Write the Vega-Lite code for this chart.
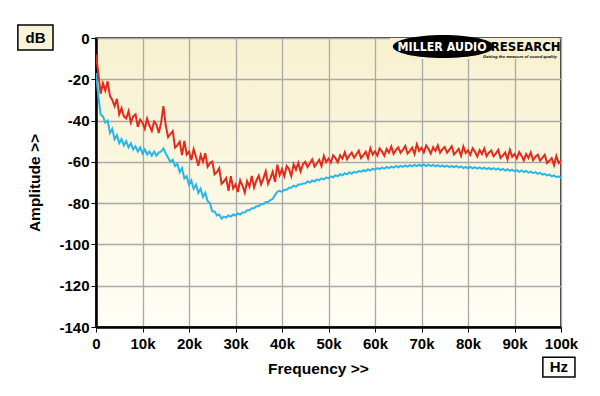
{
  "$schema": "https://vega.github.io/schema/vega-lite/v6.json",
  "width": 465,
  "height": 289,
  "autosize": "none",
  "padding": {"left": 96, "top": 38, "right": 39, "bottom": 69},
  "background": "#ffffff",
  "view": {
    "fill": {"gradient": "linear", "x1": 0, "y1": 0, "x2": 0, "y2": 1, "stops": [{"offset": 0, "color": "#f7f1cf"}, {"offset": 1, "color": "#fffef6"}]},
    "stroke": "#000000",
    "strokeWidth": 1.5
  },
  "config": {
    "font": "Liberation Sans",
    "axis": {
      "labelFont": "Liberation Sans",
      "labelFontSize": 15,
      "labelFontWeight": "bold",
      "labelColor": "#000000",
      "titleFont": "Liberation Sans",
      "titleFontSize": 15.5,
      "titleFontWeight": "bold",
      "titleColor": "#000000",
      "domainColor": "#000000",
      "domainWidth": 2.5,
      "tickColor": "#000000",
      "tickSize": 5,
      "tickWidth": 1,
      "gridColor": "#a9a9a9",
      "gridWidth": 1.3,
      "gridOpacity": 1
    }
  },
  "datasets": {
    "spec": [
      {"f":0,"r":-8,"b":-17},{"f":0.5,"r":-17,"b":-28},{"f":1,"r":-27,"b":-37},{"f":1.5,"r":-22,"b":-38},{"f":2,"r":-25.5,"b":-41},{"f":2.5,"r":-21,"b":-40},{"f":3,"r":-28,"b":-46},{"f":3.5,"r":-30,"b":-44},{"f":4,"r":-33,"b":-49},{"f":4.5,"r":-29.5,"b":-47},
      {"f":5,"r":-37,"b":-51},{"f":5.5,"r":-34,"b":-49},{"f":6,"r":-38,"b":-52},{"f":6.5,"r":-39,"b":-50},{"f":7,"r":-35.5,"b":-53},{"f":7.5,"r":-41,"b":-51},{"f":8,"r":-38,"b":-54},{"f":8.5,"r":-37,"b":-52.5},{"f":9,"r":-43,"b":-55},{"f":9.5,"r":-39.5,"b":-53},
      {"f":10,"r":-41,"b":-56},{"f":10.5,"r":-44,"b":-54},{"f":11,"r":-39,"b":-56.5},{"f":11.5,"r":-42.5,"b":-55},{"f":12,"r":-45,"b":-57},{"f":12.5,"r":-40.5,"b":-55},{"f":13,"r":-42,"b":-57},{"f":13.5,"r":-46,"b":-55.5},{"f":14,"r":-41,"b":-55},{"f":14.5,"r":-33,"b":-53.5},
      {"f":15,"r":-42.4,"b":-56},{"f":15.5,"r":-48,"b":-58},{"f":16,"r":-46.5,"b":-60},{"f":16.5,"r":-45.1,"b":-59},{"f":17,"r":-53.1,"b":-62},{"f":17.5,"r":-51.9,"b":-61},{"f":18,"r":-50.3,"b":-65},{"f":18.5,"r":-56.7,"b":-63},{"f":19,"r":-49.9,"b":-68},{"f":19.5,"r":-56.4,"b":-67},
      {"f":20,"r":-55,"b":-71},{"f":20.5,"r":-59.1,"b":-69},{"f":21,"r":-53.9,"b":-73},{"f":21.5,"r":-57.5,"b":-71},{"f":22,"r":-61.9,"b":-75},{"f":22.5,"r":-56.8,"b":-73},{"f":23,"r":-60,"b":-77},{"f":23.5,"r":-55.8,"b":-75},{"f":24,"r":-62.4,"b":-79},{"f":24.5,"r":-60.6,"b":-80},
      {"f":25,"r":-59.9,"b":-84},{"f":25.5,"r":-66,"b":-84},{"f":26,"r":-65,"b":-86},{"f":26.5,"r":-63.1,"b":-85.5},{"f":27,"r":-70.6,"b":-87.5},{"f":27.5,"r":-69.4,"b":-86.5},{"f":28,"r":-67.8,"b":-87},{"f":28.5,"r":-74,"b":-86},{"f":29,"r":-66.9,"b":-86.5},{"f":29.5,"r":-72.9,"b":-85.5},
      {"f":30,"r":-71,"b":-86},{"f":30.5,"r":-74.6,"b":-85},{"f":31,"r":-68.9,"b":-85.5},{"f":31.5,"r":-71.5,"b":-84.5},{"f":32,"r":-74.9,"b":-84.5},{"f":32.5,"r":-69.3,"b":-83.5},{"f":33,"r":-72,"b":-83.5},{"f":33.5,"r":-66.8,"b":-82.5},{"f":34,"r":-72.4,"b":-82.5},{"f":34.5,"r":-69,"b":-81.5},
      {"f":35,"r":-66.7,"b":-81.5},{"f":35.5,"r":-70.9,"b":-80.5},{"f":36,"r":-68,"b":-80.5},{"f":36.5,"r":-64.6,"b":-79.5},{"f":37,"r":-70.6,"b":-79.5},{"f":37.5,"r":-67.9,"b":-78.5},{"f":38,"r":-64.8,"b":-78},{"f":38.5,"r":-69.7,"b":-76},{"f":39,"r":-61.4,"b":-74.5},{"f":39.5,"r":-66.4,"b":-74},
      {"f":40,"r":-63.5,"b":-74.5},{"f":40.5,"r":-66.9,"b":-73.5},{"f":41,"r":-62,"b":-73.5},{"f":41.5,"r":-63.5,"b":-72.5},{"f":42,"r":-66.9,"b":-72.5},{"f":42.5,"r":-61.2,"b":-71.5},{"f":43,"r":-63.8,"b":-72},{"f":43.5,"r":-60.5,"b":-71},{"f":44,"r":-64.6,"b":-71},{"f":44.5,"r":-61.2,"b":-70.5},
      {"f":45,"r":-60,"b":-70.5},{"f":45.5,"r":-62.5,"b":-69.5},{"f":46,"r":-60.7,"b":-70},{"f":46.5,"r":-58.8,"b":-69},{"f":47,"r":-62.3,"b":-69.5},{"f":47.5,"r":-60.8,"b":-68.5},{"f":48,"r":-59,"b":-69},{"f":48.5,"r":-62,"b":-68},{"f":49,"r":-57.1,"b":-68.5},{"f":49.5,"r":-60.1,"b":-67.5},
      {"f":50,"r":-58.4,"b":-68},{"f":50.5,"r":-60.3,"b":-67},{"f":51,"r":-56.8,"b":-67.5},{"f":51.5,"r":-58.2,"b":-66.5},{"f":52,"r":-60.2,"b":-67},{"f":52.5,"r":-56.8,"b":-66},{"f":53,"r":-58.4,"b":-66.5},{"f":53.5,"r":-55.4,"b":-65.5},{"f":54,"r":-58.8,"b":-66},{"f":54.5,"r":-56.8,"b":-65},
      {"f":55,"r":-55.5,"b":-65.8},{"f":55.5,"r":-58,"b":-64.8},{"f":56,"r":-56.4,"b":-65.2},{"f":56.5,"r":-54.6,"b":-64.5},{"f":57,"r":-58.2,"b":-64.8},{"f":57.5,"r":-56.8,"b":-64},{"f":58,"r":-55.1,"b":-64.5},{"f":58.5,"r":-58.2,"b":-63.6},{"f":59,"r":-53.4,"b":-64.2},{"f":59.5,"r":-56.5,"b":-63.3},
      {"f":60,"r":-54.9,"b":-63.8},{"f":60.5,"r":-56.9,"b":-63},{"f":61,"r":-53.5,"b":-63.5},{"f":61.5,"r":-55,"b":-62.8},{"f":62,"r":-57.1,"b":-63.3},{"f":62.5,"r":-53.8,"b":-62.5},{"f":63,"r":-55.5,"b":-63},{"f":63.5,"r":-52.6,"b":-62.3},{"f":64,"r":-56.1,"b":-62.8},{"f":64.5,"r":-54.2,"b":-62},
      {"f":65,"r":-53,"b":-62.6},{"f":65.5,"r":-55.6,"b":-61.9},{"f":66,"r":-54.1,"b":-62.4},{"f":66.5,"r":-52.3,"b":-61.7},{"f":67,"r":-56,"b":-62.3},{"f":67.5,"r":-54.7,"b":-61.6},{"f":68,"r":-53.1,"b":-62.2},{"f":68.5,"r":-56.2,"b":-61.5},{"f":69,"r":-51.5,"b":-62.1},{"f":69.5,"r":-54.7,"b":-61.4},
      {"f":70,"r":-53.2,"b":-62},{"f":70.5,"r":-55.4,"b":-61.3},{"f":71,"r":-52.1,"b":-62},{"f":71.5,"r":-53.8,"b":-61.4},{"f":72,"r":-56,"b":-62.1},{"f":72.5,"r":-52.9,"b":-61.5},{"f":73,"r":-54.7,"b":-62.2},{"f":73.5,"r":-52,"b":-61.6},{"f":74,"r":-55.6,"b":-62.3},{"f":74.5,"r":-53.9,"b":-61.7},
      {"f":75,"r":-52.8,"b":-62.4},{"f":75.5,"r":-55.6,"b":-61.8},{"f":76,"r":-54.1,"b":-62.5},{"f":76.5,"r":-52.5,"b":-61.9},{"f":77,"r":-56.4,"b":-62.6},{"f":77.5,"r":-55.2,"b":-62},{"f":78,"r":-53.7,"b":-62.8},{"f":78.5,"r":-57,"b":-62.2},{"f":79,"r":-52.5,"b":-63},{"f":79.5,"r":-55.7,"b":-62.4},
      {"f":80,"r":-54.4,"b":-63.1},{"f":80.5,"r":-56.6,"b":-62.5},{"f":81,"r":-53.4,"b":-63.2},{"f":81.5,"r":-55.1,"b":-62.6},{"f":82,"r":-57.4,"b":-63.3},{"f":82.5,"r":-54.3,"b":-62.7},{"f":83,"r":-56.2,"b":-63.4},{"f":83.5,"r":-53.5,"b":-62.8},{"f":84,"r":-57.2,"b":-63.5},{"f":84.5,"r":-55.5,"b":-62.9},
      {"f":85,"r":-54.5,"b":-63.6},{"f":85.5,"r":-57.3,"b":-63},{"f":86,"r":-55.9,"b":-63.8},{"f":86.5,"r":-54.2,"b":-63.2},{"f":87,"r":-58.1,"b":-64},{"f":87.5,"r":-56.9,"b":-63.4},{"f":88,"r":-55.5,"b":-64.2},{"f":88.5,"r":-58.8,"b":-63.6},{"f":89,"r":-54.2,"b":-64.4},{"f":89.5,"r":-57.5,"b":-63.8},
      {"f":90,"r":-56.2,"b":-64.6},{"f":90.5,"r":-58.4,"b":-64},{"f":91,"r":-55.2,"b":-64.8},{"f":91.5,"r":-57,"b":-64.2},{"f":92,"r":-59.3,"b":-65},{"f":92.5,"r":-56.2,"b":-64.4},{"f":93,"r":-58.1,"b":-65.2},{"f":93.5,"r":-55.4,"b":-64.7},{"f":94,"r":-59.2,"b":-65.5},{"f":94.5,"r":-57.5,"b":-65},
      {"f":95,"r":-56.5,"b":-65.8},{"f":95.5,"r":-59.4,"b":-65.3},{"f":96,"r":-58.1,"b":-66.2},{"f":96.5,"r":-56.6,"b":-65.8},{"f":97,"r":-60.6,"b":-66.6},{"f":97.5,"r":-59.5,"b":-66.2},{"f":98,"r":-58.2,"b":-67},{"f":98.5,"r":-61.6,"b":-66.6},{"f":99,"r":-57.2,"b":-67.4},{"f":99.5,"r":-60.6,"b":-67},
      {"f":100,"r":-59.4,"b":-67.8}
    ],
    "boxes": [
      {"x1": -16.8, "x2": -9.25, "y1": 6.3, "y2": -5.8, "fill": "#f8f4d8", "label": "dB", "tx": -13.0, "ty": 0.2},
      {"x1": 96.1, "x2": 103.0, "y1": -154.6, "y2": -164.2, "fill": "#ffffff", "label": "Hz", "tx": 99.55, "ty": -159.4}
    ]
  },
  "layer": [
    {
      "data": {"values": [{"x1": 63.2, "x2": 99.6, "y1": 0, "y2": -10.2}]},
      "mark": {"type": "rect", "color": "#f7f1d0"},
      "encoding": {
        "x": {"field": "x1", "type": "quantitative", "scale": {"domain": [0, 100], "nice": false}, "axis": {"values": [0,10,20,30,40,50,60,70,80,90,100], "labelExpr": "datum.value == 0 ? '0' : datum.value + 'k'", "title": "Frequency >>", "titleX": 222, "titleAnchor": "middle", "labelPadding": 4, "titlePadding": 10, "labelFlush": false}},
        "x2": {"field": "x2"},
        "y": {"field": "y1", "type": "quantitative", "scale": {"domain": [-140, 0], "nice": false}, "axis": {"values": [-140,-120,-100,-80,-60,-40,-20,0], "labelExpr": "datum.value + ''", "title": "Amplitude >>", "labelPadding": 2, "titlePadding": 16}},
        "y2": {"field": "y2"}
      }
    },
    {
      "data": {"name": "spec"},
      "transform": [{"fold": ["r", "b"], "as": ["series", "db"]}],
      "mark": {"type": "line", "strokeWidth": 2, "clip": true},
      "encoding": {
        "x": {"field": "f", "type": "quantitative"},
        "y": {"field": "db", "type": "quantitative"},
        "color": {"field": "series", "type": "nominal", "scale": {"domain": ["r", "b"], "range": ["#e52a1c", "#29b6e8"]}, "legend": null},
        "detail": {"field": "series"}
      }
    },
    {
      "data": {"values": [{"x": 74.7, "y": -4.1}]},
      "mark": {"type": "point", "shape": "M-1,0A1,0.228,0,1,0,1,0A1,0.228,0,1,0,-1,0Z", "size": 10201, "filled": true, "color": "#000000", "opacity": 1},
      "encoding": {
        "x": {"field": "x", "type": "quantitative"},
        "y": {"field": "y", "type": "quantitative"}
      }
    },
    {
      "data": {"values": [{"x": 84.0, "y": -4.4, "t": "MILLER AUDIO"}]},
      "mark": {"type": "text", "font": "DejaVu Sans Condensed", "fontWeight": "bold", "baseline": "middle", "align": "right", "fontSize": 12.3, "color": "#ffffff"},
      "encoding": {
        "x": {"field": "x", "type": "quantitative"},
        "y": {"field": "y", "type": "quantitative"},
        "text": {"field": "t"}
      }
    },
    {
      "data": {"values": [{"x": 84.9, "y": -4.4, "t": "RESEARCH"}]},
      "mark": {"type": "text", "font": "DejaVu Sans Condensed", "fontWeight": "bold", "baseline": "middle", "align": "left", "fontSize": 13, "color": "#000000"},
      "encoding": {
        "x": {"field": "x", "type": "quantitative"},
        "y": {"field": "y", "type": "quantitative"},
        "text": {"field": "t"}
      }
    },
    {
      "data": {"values": [{"x": 83.2, "y": -9.4, "t": "Getting the measure of sound quality"}]},
      "mark": {"type": "text", "font": "Liberation Sans", "fontWeight": "bold", "fontStyle": "italic", "fontSize": 4.2, "align": "left", "baseline": "middle", "color": "#000000"},
      "encoding": {
        "x": {"field": "x", "type": "quantitative"},
        "y": {"field": "y", "type": "quantitative"},
        "text": {"field": "t"}
      }
    },
    {
      "data": {"name": "boxes"},
      "mark": {"type": "rect", "stroke": "#000000", "strokeWidth": 1.5},
      "encoding": {
        "x": {"field": "x1", "type": "quantitative"},
        "x2": {"field": "x2"},
        "y": {"field": "y1", "type": "quantitative"},
        "y2": {"field": "y2"},
        "fill": {"field": "fill", "type": "nominal", "scale": null}
      }
    },
    {
      "data": {"name": "boxes"},
      "mark": {"type": "text", "font": "Liberation Sans", "fontWeight": "bold", "fontSize": 15, "align": "center", "baseline": "middle", "color": "#000000"},
      "encoding": {
        "x": {"field": "tx", "type": "quantitative"},
        "y": {"field": "ty", "type": "quantitative"},
        "text": {"field": "label"}
      }
    }
  ]
}
